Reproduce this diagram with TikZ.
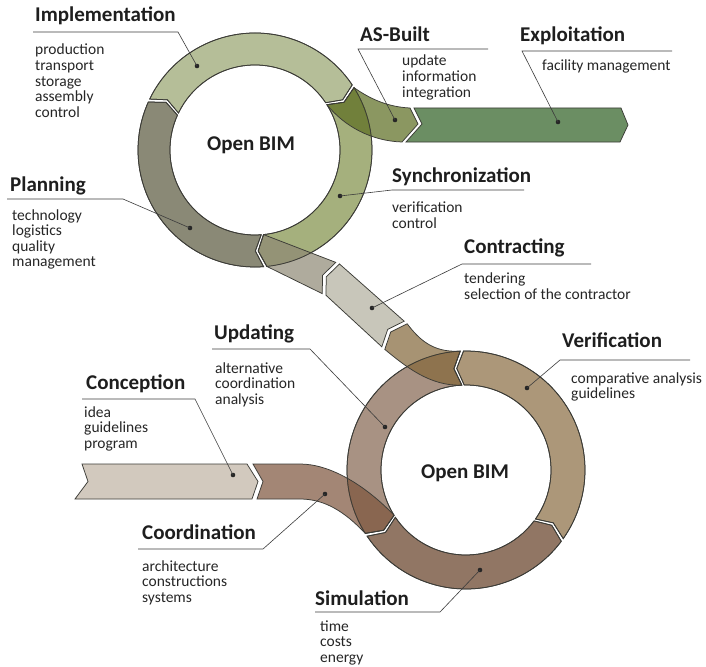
\documentclass[tikz,border=0pt]{standalone}
\usepackage{fontspec}
\setmainfont{Carlito}
\usetikzlibrary{calc}

\definecolor{edge}{RGB}{60,60,55}
\definecolor{lead}{RGB}{60,60,60}
\definecolor{headc}{RGB}{30,30,30}
\definecolor{bodyc}{RGB}{38,38,38}
% ring segments (opaque)
\definecolor{impl}{RGB}{181,190,152}
\definecolor{plan}{RGB}{138,137,118}
\definecolor{sync}{RGB}{165,176,125}
\definecolor{verif}{RGB}{172,151,121}
\definecolor{updat}{RGB}{168,146,131}
\definecolor{simul}{RGB}{145,118,100}
% straight bands (opaque)
\definecolor{exploit}{RGB}{107,142,99}
\definecolor{concep}{RGB}{210,201,190}
\definecolor{contrB}{RGB}{200,198,186}
% tails, drawn with fill opacity .7
\definecolor{asbuilt}{RGB}{91,108,31}
\definecolor{contrA}{RGB}{142,136,116}
\definecolor{contrC}{RGB}{131,102,56}
\definecolor{coord}{RGB}{124,84,59}

% ring piece with arrow ends: centre, outer r, inner r, start, end, tip
\newcommand{\ringseg}[6]{%
  ($(#1)+(#4:#2)$) arc[start angle=#4, end angle=#5, radius=#2]
  -- ($(#1)+({#5+(#6)}:{(#2+#3)/2})$) -- ($(#1)+(#5:#3)$)
  arc[start angle=#5, end angle=#4, radius=#3]
  -- ($(#1)+({#4+(#6)}:{(#2+#3)/2})$) -- cycle}

% list of lines, baseline of the first one
\newcommand\lst[1]{\vtop{\let\\\cr\baselineskip=15.6pt\lineskiplimit=-\maxdimen
  \halign{##\hfil\cr#1\crcr}}}

\begin{document}
\begin{tikzpicture}[x=1pt, y=-1pt,
  seg/.style={draw=edge, line width=0.75pt},
  tail/.style={seg, fill opacity=0.7},
  leader/.style={draw=lead, line width=0.6pt},
  dot/.style={circle, fill=black!85, inner sep=0pt, minimum size=4.6pt},
  head/.style={anchor=base west, inner sep=0pt, text=headc,
    font=\fontsize{21}{24}\selectfont\bfseries},
  body/.style={anchor=base west, inner sep=0pt, text=bodyc,
    font=\fontsize{15.5}{15.6}\selectfont},
  hub/.style={text=headc, font=\fontsize{21}{24}\selectfont\bfseries}]

\fill[white, use as bounding box] (0,0) rectangle (706,666);

% ring centres
\coordinate (C1) at (255,150);
\coordinate (C2) at (466,470);

\def\ringsegs{plan/C1/117/85/85.8/204.2/4, impl/C1/117/85/205.8/326.2/4,
  sync/C1/117/85/327.8/444.2/4, simul/C2/119/85/146.2/36.8/-4,
  verif/C2/119/85/35.2/-91.2/-4, updat/C2/119/85/-92.8/-212.2/-4}

% rings
\foreach \col/\cen/\ro/\ri/\sa/\ea/\dd in \ringsegs
  \filldraw[seg, fill=\col] \ringseg{\cen}{\ro}{\ri}{\sa}{\ea}{\dd};

% straight bands
\filldraw[seg, fill=exploit] (414,108) -- (621,108) -- (628,125) -- (620,142)
  -- (406,142) -- (422,124) -- cycle;
\filldraw[seg, fill=concep] (82,464) -- (247,464) -- (258,481.5) -- (252,499)
  -- (75,499) -- (88,481.5) -- cycle;
\filldraw[seg, fill=contrB] (339.5,264) -- (326.3,276.8) -- (325.9,295.2)
  -- (381.8,346.8) -- (387.7,329.4) -- (404.2,321.2) -- cycle;

% tails over the rings
\filldraw[tail, fill=asbuilt] (354,87.6) .. controls (370,99) and (388,107) .. (410,108)
  -- (418,124) -- (402,142) .. controls (372,141) and (345,127) .. (326.9,104.7)
  -- (344,102.3) -- cycle;
\filldraw[tail, fill=contrA] (335.8,262.4) -- (263.6,234.6) -- (258.2,251)
  -- (266.8,266.4) -- (322.2,293.6) -- (322.6,275.2) -- cycle;
\filldraw[tail, fill=contrC] (460.2,351.1) .. controls (432,353) and (418,338) .. (407.2,323.8)
  -- (390.7,332) -- (384.8,349.4) .. controls (405,366) and (430,386.5) .. (461.8,385.1)
  -- (453.9,368.7) -- cycle;
\filldraw[tail, fill=coord] (253,464) -- (300,464) .. controls (330,464) and (365,485) .. (394.1,515.3)
  -- (383.7,530.2) -- (365.3,533.4) .. controls (345,512) and (325,499) .. (300,499)
  -- (257,499) -- (263,481.5) -- cycle;

% ring edges seen through the tails
\foreach \col/\cen/\ro/\ri/\sa/\ea/\dd in \ringsegs
  \draw[seg] \ringseg{\cen}{\ro}{\ri}{\sa}{\ea}{\dd};

% centre labels
\node[hub] (bimA) at (251,145) {Open BIM};
\node[hub] (bimB) at (465,473) {Open BIM};

% Implementation
\node[head] (implH) at (35,21.5) {Implementation};
\node[body] (implT) at (35,55) {\lst{production\\transport\\storage\\assembly\\control}};
\coordinate (implL) at (33,32); \coordinate (implK) at (178,32);
\node[dot] (implD) at (197,66) {};
\draw[leader] (implL) -- (implK) -- (implD.center);

% Planning
\node[head] (planH) at (10,191.5) {Planning};
\node[body] (planT) at (12,220) {\lst{technology\\logistics\\quality\\management}};
\coordinate (planL) at (7,199); \coordinate (planK) at (123,199);
\node[dot] (planD) at (190,228) {};
\draw[leader] (planL) -- (planK) -- (planD.center);

% AS-Built
\node[head] (asbH) at (360,41.5) {AS-Built};
\node[body] (asbT) at (402,66) {\lst{update\\information\\integration}};
\coordinate (asbL) at (488,49); \coordinate (asbK) at (358,49);
\node[dot] (asbD) at (395,120) {};
\draw[leader] (asbL) -- (asbK) -- (asbD.center);

% Exploitation
\node[head] (explH) at (520,41.5) {Exploitation};
\node[body] (explT) at (542,71) {facility management};
\coordinate (explL) at (672,51); \coordinate (explK) at (522,51);
\node[dot] (explD) at (558,122) {};
\draw[leader] (explL) -- (explK) -- (explD.center);

% Synchronization
\node[head] (syncH) at (392,182) {Synchronization};
\node[body] (syncT) at (392,212.5) {\lst{verification\\control}};
\coordinate (syncL) at (524,190); \coordinate (syncK) at (392,190);
\node[dot] (syncD) at (340,196) {};
\draw[leader] (syncL) -- (syncK) -- (syncD.center);

% Contracting
\node[head] (contrH) at (464,253) {Contracting};
\node[body] (contrT) at (464,283.5) {\lst{tendering\\selection of the contractor}};
\coordinate (contrL) at (591,264); \coordinate (contrK) at (462,264);
\node[dot] (contrD) at (372,308) {};
\draw[leader] (contrL) -- (contrK) -- (contrD.center);

% Updating
\node[head] (updH) at (214,339) {Updating};
\node[body] (updT) at (215,373) {\lst{alternative\\coordination\\analysis}};
\coordinate (updL) at (212,349); \coordinate (updK) at (310,349);
\node[dot] (updD) at (385,427) {};
\draw[leader] (updL) -- (updK) -- (updD.center);

% Conception
\node[head] (concH) at (86,389) {Conception};
\node[body] (concT) at (84,417) {\lst{idea\\guidelines\\program}};
\coordinate (concL) at (82,399); \coordinate (concK) at (195,399);
\node[dot] (concD) at (233,475) {};
\draw[leader] (concL) -- (concK) -- (concD.center);

% Coordination
\node[head] (coorH) at (142,539) {Coordination};
\node[body] (coorT) at (142,571) {\lst{architecture\\constructions\\systems}};
\coordinate (coorL) at (138,549); \coordinate (coorK) at (263,549);
\node[dot] (coorD) at (325,494) {};
\draw[leader] (coorL) -- (coorK) -- (coorD.center);

% Verification
\node[head] (verH) at (562,347) {Verification};
\node[body] (verT) at (571,383) {\lst{comparative analysis\\guidelines}};
\coordinate (verL) at (690,360); \coordinate (verK) at (560,360);
\node[dot] (verD) at (527,388) {};
\draw[leader] (verL) -- (verK) -- (verD.center);

% Simulation
\node[head] (simH) at (315,605) {Simulation};
\node[body] (simT) at (320,631) {\lst{time\\costs\\energy}};
\coordinate (simL) at (315,612); \coordinate (simK) at (440,612);
\node[dot] (simD) at (480,570) {};
\draw[leader] (simL) -- (simK) -- (simD.center);

\end{tikzpicture}
\end{document}
